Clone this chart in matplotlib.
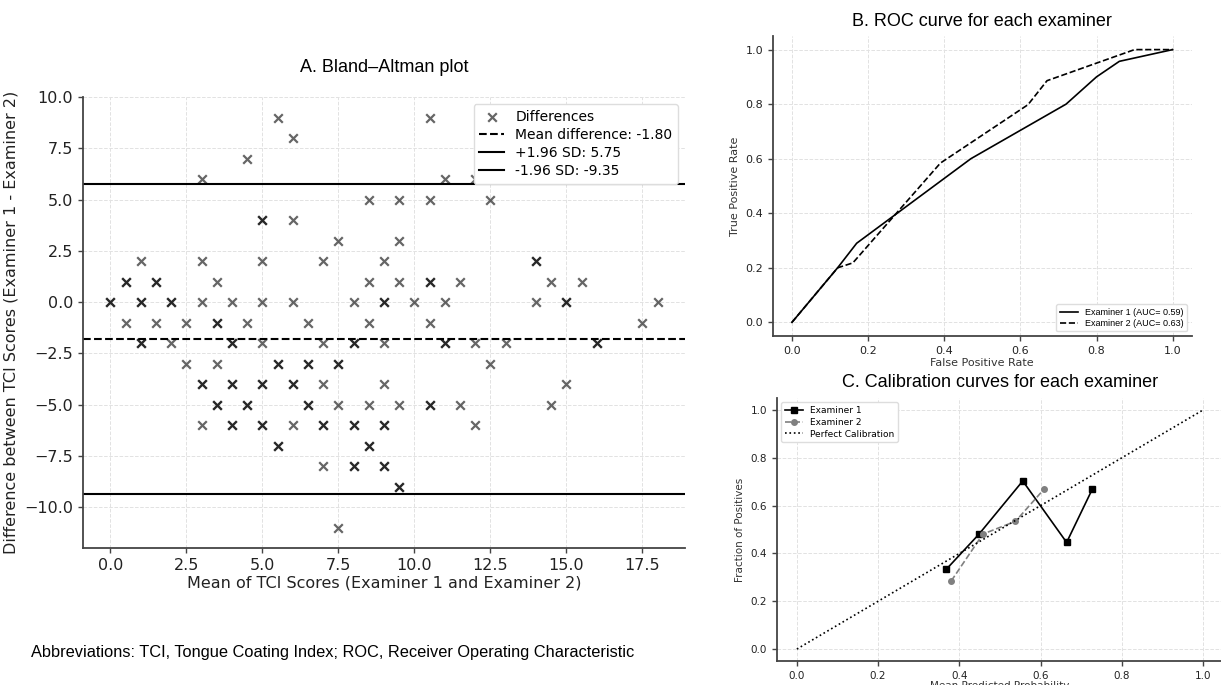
import matplotlib.pyplot as plt
import numpy as np

# A. Bland-Altman data: (mean, difference) pairs, repeated pairs listed twice
ba_mean = [5.5, 10.5,
           6.0,
           4.5,
           3.0, 11.0, 12.0,
           8.5, 9.5, 10.5, 12.5,
           5.0, 5.0, 6.0,
           7.5, 9.5,
           1.0, 3.0, 5.0, 7.0, 9.0, 14.0, 14.0,
           0.5, 0.5, 1.5, 1.5, 3.5, 8.5, 9.5, 10.5, 10.5, 11.5, 14.5, 15.5,
           0.0, 0.0, 1.0, 1.0, 2.0, 2.0, 3.0, 4.0, 5.0, 6.0, 8.0, 9.0, 9.0, 10.0, 11.0, 14.0, 15.0, 15.0, 18.0,
           0.5, 1.5, 2.5, 3.5, 3.5, 4.5, 6.5, 8.5, 10.5, 17.5,
           1.0, 1.0, 2.0, 4.0, 4.0, 5.0, 7.0, 8.0, 8.0, 9.0, 11.0, 11.0, 12.0, 13.0, 16.0, 16.0,
           2.5, 3.5, 5.5, 5.5, 6.5, 6.5, 7.5, 7.5, 12.5,
           3.0, 3.0, 4.0, 4.0, 5.0, 5.0, 6.0, 6.0, 7.0, 9.0, 15.0,
           3.5, 3.5, 4.5, 4.5, 6.5, 6.5, 7.5, 8.5, 9.5, 10.5, 10.5, 11.5, 14.5,
           3.0, 4.0, 4.0, 5.0, 5.0, 6.0, 7.0, 7.0, 8.0, 8.0, 9.0, 9.0, 12.0,
           5.5, 5.5, 8.5, 8.5,
           7.0, 8.0, 8.0, 9.0, 9.0,
           9.5, 9.5,
           7.5]
ba_diff = ([9] * 2 + [8] * 1 + [7] * 1 + [6] * 3 + [5] * 4 + [4] * 3 + [3] * 2
           + [2] * 7 + [1] * 12 + [0] * 19 + [-1] * 10 + [-2] * 16 + [-3] * 9
           + [-4] * 11 + [-5] * 13 + [-6] * 13 + [-7] * 4 + [-8] * 5 + [-9] * 2
           + [-11] * 1)
mean_diff = -1.80
upper_loa = 5.75
lower_loa = -9.35

# B. ROC curves
roc1_fpr = [0.0, 0.12, 0.17, 0.47, 0.72, 0.80, 0.86, 1.0]
roc1_tpr = [0.0, 0.20, 0.29, 0.60, 0.80, 0.90, 0.957, 1.0]
roc2_fpr = [0.0, 0.12, 0.16, 0.39, 0.62, 0.67, 0.90, 1.0]
roc2_tpr = [0.0, 0.20, 0.218, 0.584, 0.798, 0.886, 1.0, 1.0]
auc1 = 0.59
auc2 = 0.63

# C. Calibration curves
cal1_pred = [0.368, 0.448, 0.556, 0.664, 0.727]
cal1_frac = [0.334, 0.480, 0.703, 0.446, 0.668]
cal2_pred = [0.380, 0.458, 0.538, 0.608]
cal2_frac = [0.285, 0.481, 0.534, 0.668]

fig = plt.figure(figsize=(12.21, 6.85), dpi=100)
arial = 'Liberation Sans'


def style_axes(ax, tick_size):
    ax.grid(True, linestyle='--', color='#e2e2e2', linewidth=0.7)
    ax.set_axisbelow(True)
    for s in ['top', 'right']:
        ax.spines[s].set_visible(False)
    for s in ['left', 'bottom']:
        ax.spines[s].set_color('#444444')
        ax.spines[s].set_linewidth(1.3)
    ax.tick_params(colors='#444444', labelcolor='#222222', labelsize=tick_size,
                   length=3.5, width=1)


# ---- A. Bland-Altman ----
ax1 = fig.add_axes([0.068, 0.2, 0.493, 0.658])
ax1.scatter(ba_mean, ba_diff, marker='x', color='black', alpha=0.6, s=38,
            linewidths=1.6, label='Differences')
ax1.axhline(mean_diff, color='black', linestyle='--', linewidth=1.5,
            label=f'Mean difference: {mean_diff:.2f}')
ax1.axhline(upper_loa, color='black', linestyle='-', linewidth=1.5,
            label=f'+1.96 SD: {upper_loa:.2f}')
ax1.axhline(lower_loa, color='black', linestyle='-', linewidth=1.5,
            label=f'-1.96 SD: {lower_loa:.2f}')
ax1.set_xlim(-0.9, 18.9)
ax1.set_ylim(-12, 10)
ax1.set_xticks(np.arange(0, 18, 2.5))
ax1.set_yticks(np.arange(-10, 10.1, 2.5))
style_axes(ax1, 11.5)
ax1.set_xlabel('Mean of TCI Scores (Examiner 1 and Examiner 2)', fontsize=11.5,
               color='#222222', labelpad=2)
ax1.set_ylabel('Difference between TCI Scores (Examiner 1 - Examiner 2)',
               fontsize=11.5, color='#222222', labelpad=4)
ax1.set_title('A. Bland\u2013Altman plot', fontsize=13, family=arial, pad=18)
ax1.legend(loc='upper right', fontsize=10, framealpha=1, edgecolor='#dddddd',
           borderpad=0.4, labelspacing=0.3, handlelength=1.8)

# ---- B. ROC ----
ax2 = fig.add_axes([0.633, 0.5095, 0.343, 0.438])
ax2.plot(roc1_fpr, roc1_tpr, color='black', linestyle='-', linewidth=1.2,
         label=f'Examiner 1 (AUC= {auc1:.2f})')
ax2.plot(roc2_fpr, roc2_tpr, color='black', linestyle='--', linewidth=1.2,
         label=f'Examiner 2 (AUC= {auc2:.2f})')
ax2.set_xlim(-0.05, 1.05)
ax2.set_ylim(-0.05, 1.05)
style_axes(ax2, 8)
ax2.set_xlabel('False Positive Rate', fontsize=8, color='#333333', labelpad=2)
ax2.set_ylabel('True Positive Rate', fontsize=8, color='#333333')
ax2.set_title('B. ROC curve for each examiner', fontsize=13, family=arial, pad=7)
ax2.legend(loc='lower right', prop={'family': arial, 'size': 6.5},
           framealpha=1, edgecolor='#dddddd', labelspacing=0.2)

# ---- C. Calibration ----
ax3 = fig.add_axes([0.636, 0.035, 0.366, 0.384])
ax3.plot(cal1_pred, cal1_frac, color='black', linestyle='-', marker='s',
         markersize=4, linewidth=1.2, label='Examiner 1')
ax3.plot(cal2_pred, cal2_frac, color='grey', linestyle='--', marker='o',
         markersize=4, linewidth=1.2, label='Examiner 2')
ax3.plot([0, 1], [0, 1], color='black', linestyle=':', linewidth=1.2,
         label='Perfect Calibration')
ax3.set_xlim(-0.05, 1.05)
ax3.set_ylim(-0.05, 1.05)
style_axes(ax3, 7.5)
ax3.set_xlabel('Mean Predicted Probability', fontsize=7.5, color='#333333',
               labelpad=0)
ax3.set_ylabel('Fraction of Positives', fontsize=7.5, color='#333333')
ax3.set_title('C. Calibration curves for each examiner', fontsize=13,
              family=arial, pad=8)
ax3.legend(loc='upper left', fontsize=6.5, framealpha=1, edgecolor='#dddddd',
           labelspacing=0.3)

fig.text(0.025, 0.048, 'Abbreviations: TCI, Tongue Coating Index; ROC, '
         'Receiver Operating Characteristic', fontsize=11.75, family=arial,
         va='center')

fig.savefig('out.png', dpi=100)
